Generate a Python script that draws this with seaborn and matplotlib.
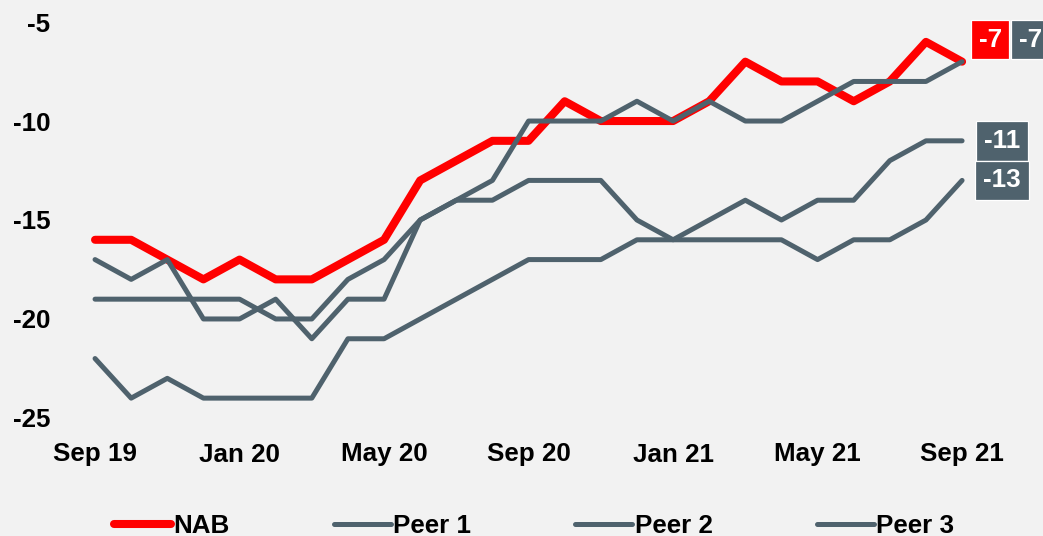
import matplotlib
matplotlib.use("Agg")
import matplotlib.pyplot as plt
import seaborn as sns

# data
months = ["Sep 19", "Oct 19", "Nov 19", "Dec 19", "Jan 20", "Feb 20", "Mar 20",
          "Apr 20", "May 20", "Jun 20", "Jul 20", "Aug 20", "Sep 20", "Oct 20",
          "Nov 20", "Dec 20", "Jan 21", "Feb 21", "Mar 21", "Apr 21", "May 21",
          "Jun 21", "Jul 21", "Aug 21", "Sep 21"]
nab = [-16, -16, -17, -18, -17, -18, -18, -17, -16, -13, -12, -11, -11,
       -9, -10, -10, -10, -9, -7, -8, -8, -9, -8, -6, -7]
peer1 = [-17, -18, -17, -20, -20, -19, -21, -19, -19, -15, -14, -13, -10,
         -10, -10, -9, -10, -9, -10, -10, -9, -8, -8, -8, -7]
peer2 = [-19, -19, -19, -19, -19, -20, -20, -18, -17, -15, -14, -14, -13,
         -13, -13, -15, -16, -15, -14, -15, -14, -14, -12, -11, -11]
peer3 = [-22, -24, -23, -24, -24, -24, -24, -21, -21, -20, -19, -18, -17,
         -17, -17, -16, -16, -16, -16, -16, -17, -16, -16, -15, -13]
tick_labels = ["Sep 19", "Jan 20", "May 20", "Sep 20", "Jan 21", "May 21", "Sep 21"]

RED = "#ff0000"
GREY = "#4f626d"
BG = "#f2f2f2"

sns.set_style("white")
plt.rcParams["font.family"] = ["Liberation Sans", "DejaVu Sans"]
plt.rcParams["font.weight"] = "bold"
plt.rcParams["text.color"] = "black"
plt.rcParams["xtick.color"] = "black"
plt.rcParams["ytick.color"] = "black"
FS = 18.7

fig = plt.figure(figsize=(10.43, 5.36), dpi=100, facecolor=BG)
ax = fig.add_axes([60 / 1043, 106 / 536, 983 / 1043, 420 / 536])
ax.set_facecolor(BG)

x = list(range(len(months)))
series = [("NAB", nab, RED, 5.8), ("Peer 1", peer1, GREY, 3.6),
          ("Peer 2", peer2, GREY, 3.6), ("Peer 3", peer3, GREY, 3.6)]
for name, vals, col, lw in series:
    sns.lineplot(x=x, y=vals, ax=ax, color=col, linewidth=lw, label=name,
                 solid_capstyle="round", legend=False)

ax.set_xlim(-0.97, 26.24)
ax.set_ylim(-25.61, -4.39)
ax.set_xticks([months.index(m) for m in tick_labels])
ax.set_xticklabels(tick_labels, fontsize=FS, fontweight="bold", color="black")
ax.set_yticks([-5, -10, -15, -20, -25])
ax.set_yticklabels(["-5", "-10", "-15", "-20", "-25"], fontsize=FS,
                   fontweight="bold", color="black")
ax.tick_params(axis="both", length=0)
ax.tick_params(axis="x", pad=9)
ax.tick_params(axis="y", pad=7)
for s in ax.spines.values():
    s.set_visible(False)
ax.set_xlabel("")
ax.set_ylabel("")

# end labels
last = len(months) - 1
end_labels = [(nab[-1], RED, 28, 22), (peer1[-1], GREY, 68.5, 22),
              (peer2[-1], GREY, 40, 0), (peer3[-1], GREY, 40, 0)]
for val, col, dx, dy in end_labels:
    ax.annotate(f"{val}", xy=(last, val), xytext=(dx, dy), textcoords="offset pixels",
                ha="center", va="center", color="white", fontsize=FS, fontweight="bold",
                bbox=dict(boxstyle="square,pad=0.3", fc=col, ec="white", lw=0.9),
                annotation_clip=False)

handles, labels = ax.get_legend_handles_labels()
leg = fig.legend(handles, labels, loc="center", bbox_to_anchor=(534 / 1043, 10 / 536),
                 ncol=4, frameon=False, handlelength=2.2, handletextpad=0.1,
                 columnspacing=4.0, prop={"size": FS, "weight": "bold"})
for t in leg.get_texts():
    t.set_color("black")

fig.savefig("out.png", dpi=100, facecolor=BG)
